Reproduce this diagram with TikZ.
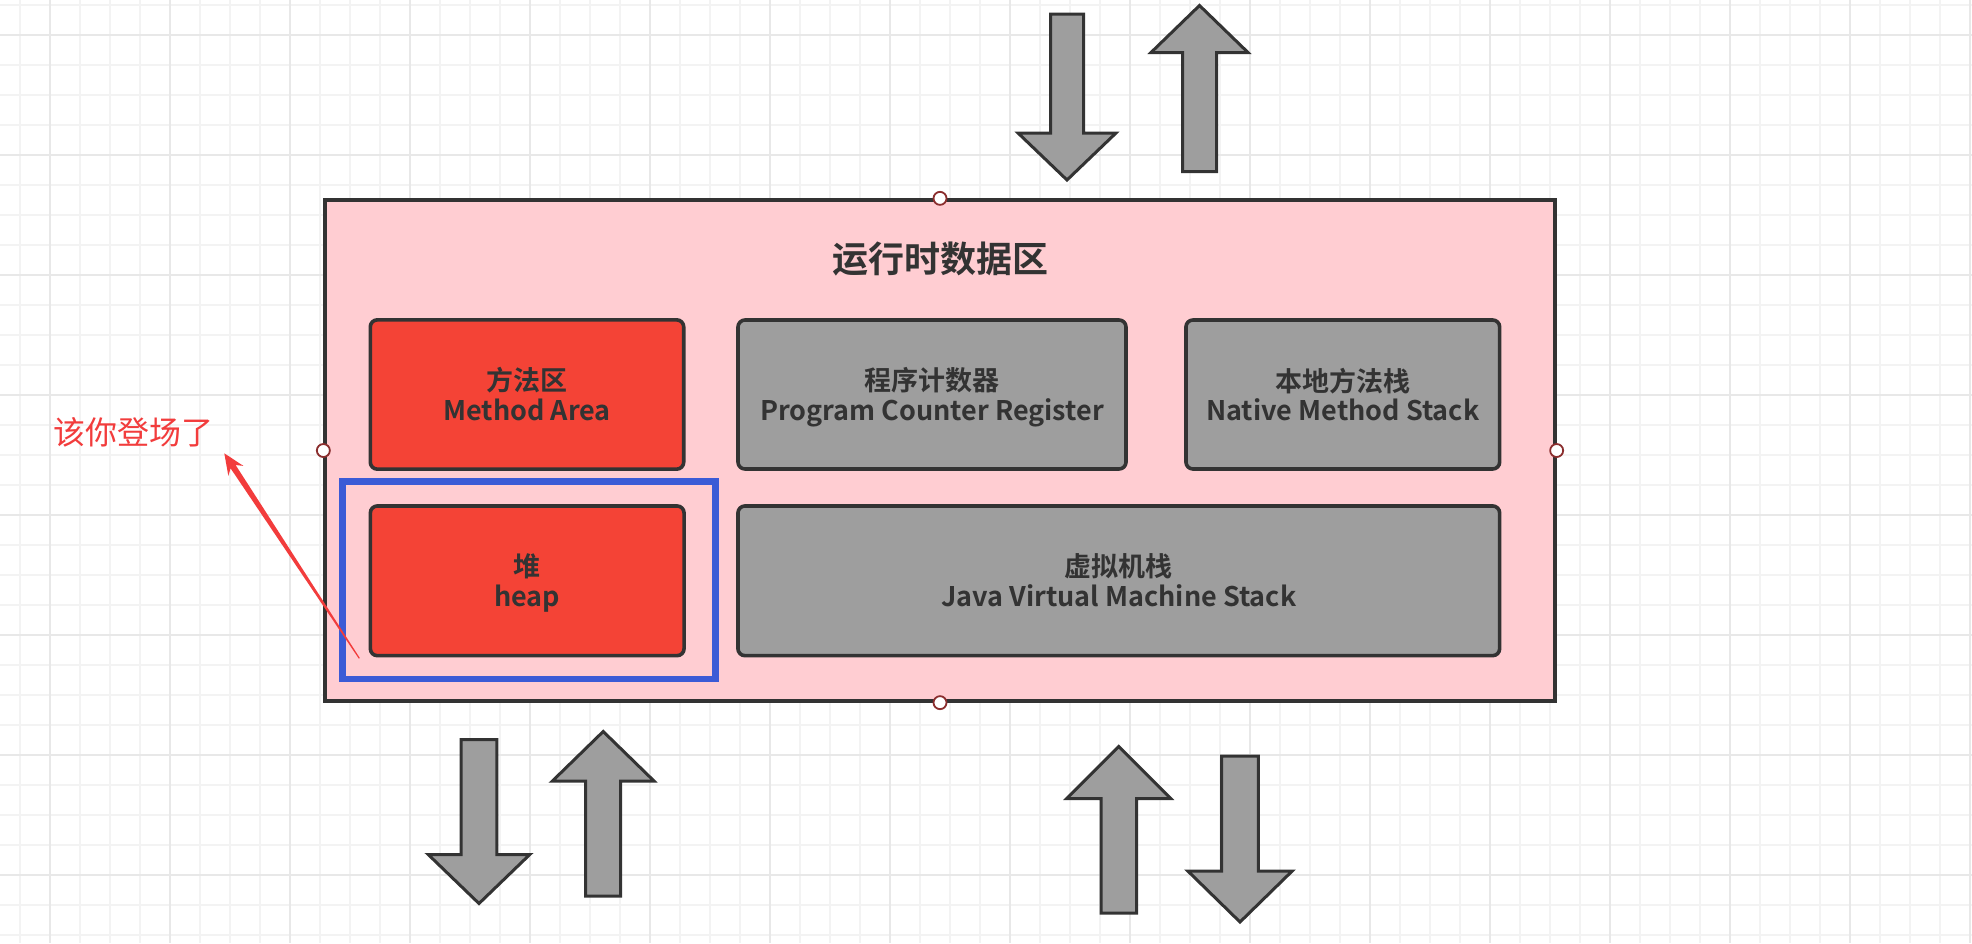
\documentclass[tikz,border=0pt]{standalone}
\usepackage{fontspec}
\usetikzlibrary{calc}
\newfontfamily\cjkb{Noto Sans CJK SC Bold}
\newfontfamily\cjkr{Noto Sans CJK SC}
\definecolor{pinkbg}{HTML}{FFCDD2}
\definecolor{redfill}{HTML}{F44336}
\definecolor{grayfill}{HTML}{9E9E9E}
\definecolor{darkline}{HTML}{333333}
\definecolor{bluesel}{HTML}{3B5BD6}
\definecolor{annot}{HTML}{F23C3C}
\definecolor{handlecol}{HTML}{8B2E2E}
\definecolor{gridminor}{HTML}{F3F3F3}
\definecolor{gridmajor}{HTML}{E8E8E8}
\newcommand{\myBlockArrow}[6]{%
  \draw[blockarr] ({#1-#5},#2) -- ({#1+#5},#2) -- ({#1+#5},#3) -- ({#1+#6},#3) -- (#1,#4) -- ({#1-#6},#3) -- ({#1-#5},#3) -- cycle;}
\begin{document}
\begin{tikzpicture}[x=1pt,y=-1pt,
  areabox/.style={draw=darkline, line width=3.6pt, rounded corners=7pt, inner sep=0pt},
  redarea/.style={areabox, fill=redfill},
  grayarea/.style={areabox, fill=grayfill},
  zhlabel/.style={anchor=base, text=darkline, font=\cjkb\fontsize{27}{30}\selectfont, inner sep=0pt},
  enlabel/.style={anchor=base, text=darkline, font=\cjkb\fontsize{27}{30}\selectfont, inner sep=0pt},
  handle/.style={circle, draw=handlecol, fill=white, line width=1.8pt, minimum size=13pt, inner sep=0pt},
  blockarr/.style={draw=darkline, fill=grayfill, line width=3pt, line join=miter},
  minorline/.style={draw=gridminor, line width=1.2pt},
  majorline/.style={draw=gridmajor, line width=2pt}]
\useasboundingbox (0,0) rectangle (1972,943);
\fill[white] (0,0) rectangle (1972,943);
% grid
\foreach \x in {20,50,...,1970} \draw[minorline] (\x,0) -- (\x,943);
\foreach \y in {5,35,...,935} \draw[minorline] (0,\y) -- (1972,\y);
\foreach \x in {50,170,...,1970} \draw[majorline] (\x,0) -- (\x,943);
\foreach \y in {35,155,...,875} \draw[majorline] (0,\y) -- (1972,\y);
% block arrows
\myBlockArrow{1067}{14}{133}{180}{16.5}{49}
\myBlockArrow{1199.5}{171.5}{52.5}{5.5}{17}{48.5}
\myBlockArrow{479}{739.5}{854.5}{903.5}{17.8}{50.8}
\myBlockArrow{603.2}{896}{781}{731.5}{17.5}{50.8}
\myBlockArrow{1118.8}{913}{798.5}{746.5}{17.8}{52}
\myBlockArrow{1240}{756}{871}{922}{18.3}{52.2}
% runtime data area
\node[draw=darkline, fill=pinkbg, line width=3.3pt, minimum width=1230pt, minimum height=501pt, inner sep=0pt] (rda) at (940,450.5) {};
\node[anchor=base, font=\cjkb\fontsize{36}{40}\selectfont, text=darkline, inner sep=0pt] (title) at (940,272) {运行时数据区};
% areas
\node[redarea, minimum width=313.4pt, minimum height=149.3pt] (ma) at (527,394.5) {};
\node[zhlabel] (ma-zh) at (527,390) {方法区};
\node[enlabel] (ma-en) at (527,420) {Method Area};
\node[grayarea, minimum width=388pt, minimum height=149pt] (pcr) at (932,394.5) {};
\node[zhlabel] (pcr-zh) at (932,390) {程序计数器};
\node[enlabel] (pcr-en) at (932,420) {Program Counter Register};
\node[grayarea, minimum width=313.7pt, minimum height=149pt] (nms) at (1342.8,394.5) {};
\node[zhlabel] (nms-zh) at (1342.8,391) {本地方法栈};
\node[enlabel] (nms-en) at (1342.8,420) {Native Method Stack};
\node[redarea, minimum width=313.7pt, minimum height=149.7pt] (heap) at (527.2,580.8) {};
\node[zhlabel] (heap-zh) at (527.2,576.3) {堆};
\node[enlabel] (heap-en) at (527.2,606.7) {heap};
\node[grayarea, minimum width=761.7pt, minimum height=149.7pt] (jvm) at (1118.8,580.8) {};
\node[zhlabel] (jvm-zh) at (1118.8,576.3) {虚拟机栈};
\node[enlabel] (jvm-en) at (1118.8,606.7) {Java Virtual Machine Stack};
% selection
\node[draw=bluesel, line width=6.7pt, minimum width=372.6pt, minimum height=197.3pt, inner sep=0pt] (sel) at (529,580.35) {};
% handles
\node[handle] (h-top) at (rda.north) {};
\node[handle] (h-bot) at (rda.south) {};
\node[handle] (h-left) at (rda.west) {};
\node[handle] (h-right) at (rda.east) {};
% annotation
\node[anchor=base, font=\cjkr\fontsize{32}{36}\selectfont, text=annot, inner sep=0pt] (note) at (133.5,444) {该你登场了};
\coordinate (tip) at (224.3,453.3);
\coordinate (tail) at (359.3,658.3);
\coordinate (hb) at ($(tip)!21pt!(tail)$);
\coordinate (nk) at ($(tip)!16pt!(tail)$);
\coordinate (w1) at ($(hb)!9pt!90:(tail)$);
\coordinate (w2) at ($(hb)!9pt!-90:(tail)$);
\coordinate (n1) at ($(nk)!3pt!90:(tail)$);
\coordinate (n2) at ($(nk)!3pt!-90:(tail)$);
\coordinate (t1) at ($(tail)!0.6pt!-90:(tip)$);
\coordinate (t2) at ($(tail)!0.6pt!90:(tip)$);
\fill[annot] (tip) -- (w1) -- (n1) -- (t1) -- (t2) -- (n2) -- (w2) -- cycle;
\end{tikzpicture}
\end{document}
